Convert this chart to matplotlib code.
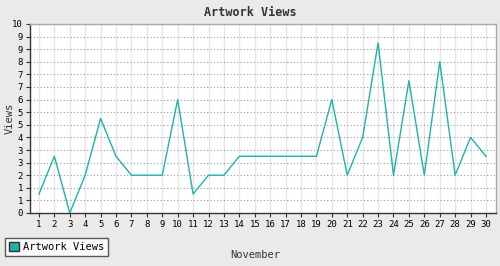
import matplotlib
matplotlib.use('Agg')
import matplotlib.pyplot as plt
import numpy as np
from matplotlib.patches import Patch

days = list(range(1, 31))
views = [1, 3, 0, 2, 5, 3, 2, 2, 2, 6,
         1, 2, 2, 3, 3, 3, 3, 3, 3, 6,
         2, 4, 9, 2, 7, 2, 8, 2, 4, 3]
y_ticks = np.linspace(0, 10, 16)
y_labels = ['%d' % round(v) for v in y_ticks]

teal = '#20b2aa'
mono = 'DejaVu Sans Mono'

fig = plt.figure(figsize=(5, 2.66), dpi=100, facecolor='#eaeaea')
ax = fig.add_axes([30 / 500, 1 - 213 / 266, 466 / 500, 189 / 266])
ax.set_facecolor('white')

ax.plot(days, views, color=teal, lw=1.0)

ax.set_xlim(0.42, 30.65)
ax.set_ylim(0, 10)
ax.set_xticks(days)
ax.set_xticklabels([str(d) for d in days], fontsize=6.5, family=mono)
ax.set_yticks(y_ticks)
ax.set_yticklabels(y_labels, fontsize=6.5, family=mono)
ax.tick_params(axis='both', length=3, width=0.8, color='#333333', pad=2)

for d in days:
    ax.axvline(d, color='#e6e6e6', lw=1.0, zorder=0)
for v in y_ticks[1:]:
    ax.axhline(v, color='#999999', lw=0.8, ls=(0, (1, 2)), zorder=0)

for s in ['left', 'bottom']:
    ax.spines[s].set_color('#333333')
    ax.spines[s].set_linewidth(1.0)
for s in ['top', 'right']:
    ax.spines[s].set_color('#aaaaaa')
    ax.spines[s].set_linewidth(1.0)

fig.text(0.5, 1 - 12 / 266, 'Artwork Views', ha='center', va='center',
         fontsize=8.5, fontweight='bold', family=mono, color='#333333')
fig.text(10 / 500, 1 - 118 / 266, 'Views', ha='center', va='center',
         rotation=90, fontsize=7.5, family=mono, color='#333333')
fig.text(255 / 500, 1 - 255 / 266, 'November', ha='center', va='center',
         fontsize=7.5, family=mono, color='#333333')

leg = fig.legend(handles=[Patch(facecolor=teal, edgecolor='#333333', label='Artwork Views')],
                 loc='lower left', bbox_to_anchor=(5 / 500, 10 / 266),
                 prop={'family': mono, 'size': 7.5}, frameon=True, fancybox=False,
                 handlelength=1.0, handleheight=1.0, handletextpad=0.4,
                 borderpad=0.35, borderaxespad=0)
leg.get_frame().set_edgecolor('#333333')
leg.get_frame().set_linewidth(1.0)
leg.get_frame().set_facecolor('white')

fig.savefig('out.png', dpi=100, facecolor=fig.get_facecolor())
